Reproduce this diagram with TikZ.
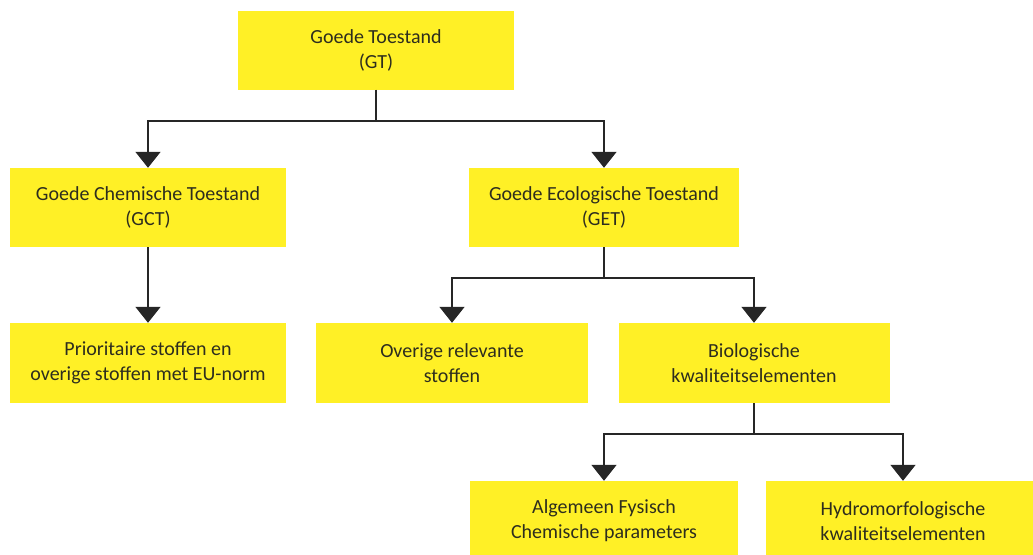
\documentclass[tikz,border=0pt]{standalone}
\usepackage{fontspec}
\setmainfont{Carlito}
\usetikzlibrary{arrows.meta}
\definecolor{boxyellow}{RGB}{255,240,38}
\definecolor{txt}{RGB}{45,45,30}
\tikzset{
  box/.style={fill=boxyellow, draw=none, align=center, text=txt,
    font=\fontsize{20}{25}\selectfont, minimum height=79pt, inner sep=0pt},
  conn/.style={line width=1.6pt, draw=black!85},
  arr/.style={conn, -{Triangle[width=25pt,length=16pt]}},
}
\begin{document}
\begin{tikzpicture}[x=1pt,y=-1pt]
\useasboundingbox (0,0) rectangle (1033,554);
\clip (0,0) rectangle (1033,554);
\node[box, minimum width=276pt] (GT) at (376,50) {Goede Toestand\\(GT)};
\node[box, minimum width=276pt] (GCT) at (148,207.5) {Goede Chemische Toestand\\(GCT)};
\node[box, minimum width=270pt] (GET) at (604,207.5) {Goede Ecologische Toestand\\(GET)};
\node[box, minimum width=276pt, minimum height=80pt] (PS) at (148,363) {Prioritaire stoffen en\\overige stoffen met EU-norm};
\node[box, minimum width=272pt, minimum height=80pt] (OR) at (452,363) {Overige relevante\\stoffen};
\node[box, minimum width=271pt, minimum height=80pt] (BK) at (754,363) {Biologische\\kwaliteitselementen};
\node[box, minimum width=268pt, minimum height=80pt] (AF) at (604,521) {Algemeen Fysisch\\Chemische parameters};
\node[box, minimum width=274pt, minimum height=80pt] (HK) at (903,521) {Hydromorfologische\\kwaliteitselementen};
\coordinate (j1) at (376,121);
\coordinate (j2) at (604,278);
\coordinate (j3) at (754,434);
\draw[conn] (GT.south) -- (j1);
\draw[arr] (j1) -| (GCT.north);
\draw[arr] (j1) -| (GET.north);
\draw[arr] (GCT.south) -- (PS.north);
\draw[conn] (GET.south) -- (j2);
\draw[arr] (j2) -| (OR.north);
\draw[arr] (j2) -| (BK.north);
\draw[conn] (BK.south) -- (j3);
\draw[arr] (j3) -| (AF.north);
\draw[arr] (j3) -| (HK.north);
\end{tikzpicture}
\end{document}
